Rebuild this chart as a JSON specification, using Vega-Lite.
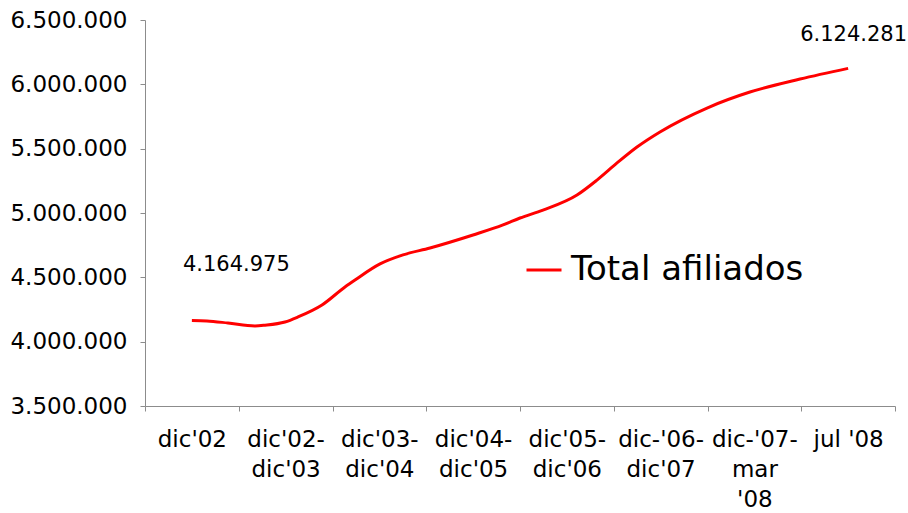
{
  "$schema": "https://vega.github.io/schema/vega-lite/v6.json",
  "width": 750,
  "height": 386,
  "autosize": {"type": "none"},
  "padding": {"left": 145, "top": 20, "right": 13, "bottom": 107},
  "background": "white",
  "config": {
    "view": {"stroke": null},
    "locale": {"number": {"decimal": ",", "thousands": ".", "grouping": [3], "currency": ["", " €"]}},
    "axis": {"domainColor": "#8c8c8c", "tickColor": "#8c8c8c", "labelColor": "#000000", "grid": false, "labelFont": "DejaVu Sans"}
  },
  "data": {
    "values": [
      {"u": 0.5, "v": 4164975, "serie": "Total afiliados"},
      {"u": 0.66, "v": 4161000, "serie": "Total afiliados"},
      {"u": 0.885, "v": 4145000, "serie": "Total afiliados"},
      {"u": 1.173, "v": 4122000, "serie": "Total afiliados"},
      {"u": 1.28, "v": 4128000, "serie": "Total afiliados"},
      {"u": 1.493, "v": 4153000, "serie": "Total afiliados"},
      {"u": 1.632, "v": 4192000, "serie": "Total afiliados"},
      {"u": 1.888, "v": 4285000, "serie": "Total afiliados"},
      {"u": 2.133, "v": 4425000, "serie": "Total afiliados"},
      {"u": 2.24, "v": 4479000, "serie": "Total afiliados"},
      {"u": 2.507, "v": 4604000, "serie": "Total afiliados"},
      {"u": 2.752, "v": 4674000, "serie": "Total afiliados"},
      {"u": 3.04, "v": 4728000, "serie": "Total afiliados"},
      {"u": 3.499, "v": 4829000, "serie": "Total afiliados"},
      {"u": 3.819, "v": 4907000, "serie": "Total afiliados"},
      {"u": 4.0, "v": 4961000, "serie": "Total afiliados"},
      {"u": 4.245, "v": 5023000, "serie": "Total afiliados"},
      {"u": 4.608, "v": 5140000, "serie": "Total afiliados"},
      {"u": 4.821, "v": 5256000, "serie": "Total afiliados"},
      {"u": 5.035, "v": 5389000, "serie": "Total afiliados"},
      {"u": 5.248, "v": 5513000, "serie": "Total afiliados"},
      {"u": 5.493, "v": 5630000, "serie": "Total afiliados"},
      {"u": 5.995, "v": 5816000, "serie": "Total afiliados"},
      {"u": 6.453, "v": 5940000, "serie": "Total afiliados"},
      {"u": 6.987, "v": 6041000, "serie": "Total afiliados"},
      {"u": 7.5, "v": 6124281, "serie": "Total afiliados"}
    ]
  },
  "encoding": {
    "x": {
      "field": "u", "type": "quantitative",
      "scale": {"domain": [0, 8], "nice": false, "zero": false},
      "axis": {
        "title": null,
        "values": [0, 0.5, 1, 1.5, 2, 2.5, 3, 3.5, 4, 4.5, 5, 5.5, 6, 6.5, 7, 7.5, 8],
        "tickSize": 5,
        "tickOpacity": {"condition": {"test": "datum.value % 1 != 0", "value": 0}, "value": 1},
        "labelExpr": "datum.value % 1 == 0.5 ? [[\"dic'02\"],[\"dic'02-\",\"dic'03\"],[\"dic'03-\",\"dic'04\"],[\"dic'04-\",\"dic'05\"],[\"dic'05-\",\"dic'06\"],[\"dic-'06-\",\"dic'07\"],[\"dic-'07-\",\"mar\",\"'08\"],[\"jul '08\"]][floor(datum.value)] : ''",
        "labelFontSize": 23,
        "labelLineHeight": 30,
        "labelPadding": 17,
        "labelBaseline": "top",
        "labelFlush": false,
        "labelOverlap": false,
        "labelBound": false
      }
    },
    "y": {
      "field": "v", "type": "quantitative",
      "scale": {"domain": [3500000, 6500000], "nice": false, "zero": false},
      "axis": {
        "title": null,
        "values": [3500000, 4000000, 4500000, 5000000, 5500000, 6000000, 6500000],
        "format": ",d",
        "tickSize": 5,
        "labelPadding": 13,
        "labelFontSize": 23
      }
    }
  },
  "layer": [
    {
      "mark": {"type": "line", "strokeWidth": 3, "interpolate": "monotone"},
      "encoding": {
        "color": {
          "field": "serie", "type": "nominal",
          "scale": {"range": ["#ff0000"]},
          "legend": {
            "title": null,
            "orient": "none",
            "legendX": 380,
            "legendY": 231,
            "padding": 0,
            "symbolType": "stroke",
            "symbolSize": 1225,
            "symbolStrokeWidth": 3,
            "labelFontSize": 34,
            "labelFont": "DejaVu Sans",
            "labelColor": "#000000",
            "labelOffset": 8,
            "labelLimit": 0
          }
        }
      }
    },
    {
      "transform": [{"filter": "datum.v == 4164975"}],
      "mark": {"type": "text", "align": "left", "baseline": "middle", "dx": -9, "dy": -55, "font": "DejaVu Sans", "fontSize": 21, "color": "#000000"},
      "encoding": {"text": {"field": "v", "type": "quantitative", "format": ",d"}}
    },
    {
      "transform": [{"filter": "datum.v == 6124281"}],
      "mark": {"type": "text", "align": "left", "baseline": "middle", "dx": -48, "dy": -33, "font": "DejaVu Sans", "fontSize": 21, "color": "#000000"},
      "encoding": {"text": {"field": "v", "type": "quantitative", "format": ",d"}}
    }
  ]
}
